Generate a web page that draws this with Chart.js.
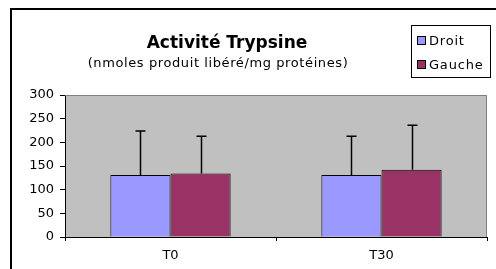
<!DOCTYPE html>
<html>
<head>
<meta charset="utf-8">
<script src="https://cdn.jsdelivr.net/npm/chart.js@4/dist/chart.umd.min.js"></script>
<style>
html,body{margin:0;padding:0;background:#fff;}
#wrap{width:496px;height:269px;position:relative;}
</style>
</head>
<body>
<div id="wrap"><canvas id="c" width="496" height="269"></canvas></div>
<script>
const categories = ["T0", "T30"];
const seriesNames = ["Droit", "Gauche"];
const droitValues = [131, 131];
const gaucheValues = [134, 142];
const droitErrors = [93, 82];
const gaucheErrors = [79, 94];
const yTicks = [0, 50, 100, 150, 200, 250, 300];
const titleText = "Activité Trypsine";
const subtitleText = "(nmoles produit libéré/mg protéines)";

const FONT = "'DejaVu Sans', 'Liberation Sans', Arial, sans-serif";

const decorPlugin = {
  id: 'decor',
  beforeDraw(chart) {
    const {ctx, chartArea: a} = chart;
    ctx.save();
    ctx.fillStyle = '#C0C0C0';
    ctx.fillRect(a.left, a.top, a.right - a.left, a.bottom - a.top);
    ctx.restore();
  },
  afterDraw(chart) {
    const {ctx, chartArea: a} = chart;
    ctx.save();
    ctx.strokeStyle = '#808080';
    ctx.lineWidth = 1;
    ctx.beginPath();
    ctx.moveTo(a.left, a.top + 0.5);
    ctx.lineTo(a.right - 0.5, a.top + 0.5);
    ctx.lineTo(a.right - 0.5, a.bottom);
    ctx.stroke();
    ctx.strokeStyle = '#000';
    ctx.lineWidth = 2;
    ctx.beginPath();
    ctx.moveTo(11, 269);
    ctx.lineTo(11, 9);
    ctx.lineTo(496, 9);
    ctx.stroke();
    ctx.fillStyle = '#000';
    ctx.textAlign = 'center';
    ctx.textBaseline = 'alphabetic';
    ctx.font = "bold 17px " + FONT;
    ctx.fillText(titleText, 227, 48);
    ctx.font = "13px " + FONT;
    if ('letterSpacing' in ctx) ctx.letterSpacing = '0.6px';
    ctx.fillText(subtitleText, 218, 67);
    if ('letterSpacing' in ctx) ctx.letterSpacing = '0.8px';
    ctx.lineWidth = 1;
    ctx.strokeStyle = '#000';
    ctx.fillStyle = '#fff';
    ctx.fillRect(411, 25, 80, 53);
    ctx.strokeRect(411.5, 25.5, 79, 52);
    const ys = [36, 60];
    chart.data.datasets.forEach((ds, i) => {
      ctx.fillStyle = ds.backgroundColor;
      ctx.fillRect(417, ys[i], 9, 9);
      ctx.strokeRect(417.5, ys[i] + 0.5, 8, 8);
      ctx.fillStyle = '#000';
      ctx.textAlign = 'left';
      ctx.font = "13px " + FONT;
      ctx.fillText(ds.label, 429, ys[i] + 9);
    });
    if ('letterSpacing' in ctx) ctx.letterSpacing = '0px';
    ctx.restore();
  },
  afterDatasetsDraw(chart) {
    const {ctx} = chart;
    const yScale = chart.scales.y;
    ctx.save();
    ctx.strokeStyle = '#000';
    ctx.lineWidth = 1.5;
    chart.data.datasets.forEach((ds, di) => {
      const meta = chart.getDatasetMeta(di);
      meta.data.forEach((el, i) => {
        const top = yScale.getPixelForValue(ds.data[i] + ds.errors[i]);
        const x = Math.round(el.x) + 0.5;
        ctx.beginPath();
        ctx.moveTo(x, el.y);
        ctx.lineTo(x, top);
        ctx.moveTo(x - 5, top);
        ctx.lineTo(x + 5, top);
        ctx.stroke();
      });
    });
    ctx.restore();
  }
};

new Chart(document.getElementById('c'), {
  type: 'bar',
  data: {
    labels: categories,
    datasets: [
      {label: seriesNames[0], data: droitValues, errors: droitErrors, backgroundColor: '#9999FF', borderColor: '#000', borderWidth: 1},
      {label: seriesNames[1], data: gaucheValues, errors: gaucheErrors, backgroundColor: '#993366', borderColor: '#000', borderWidth: 1}
    ]
  },
  options: {
    responsive: false,
    animation: false,
    devicePixelRatio: 1,
    layout: {padding: {top: 95, right: 9, left: 0, bottom: 0}},
    plugins: {legend: {display: false}, title: {display: false}, tooltip: {enabled: false}},
    datasets: {bar: {categoryPercentage: 0.57, barPercentage: 1.0}},
    scales: {
      x: {
        grid: {display: true, drawOnChartArea: false, drawTicks: true, tickLength: 4, color: '#000', offset: true},
        border: {display: true, color: '#000', width: 1},
        ticks: {color: '#000', font: {family: FONT, size: 13}, padding: 7, maxRotation: 0},
        afterFit(s) { s.height = 32; }
      },
      y: {
        min: 0, max: 300,
        afterBuildTicks(s) { s.ticks = yTicks.map(v => ({value: v})); },
        grid: {display: true, drawOnChartArea: false, drawTicks: true, tickLength: 5, color: '#000'},
        border: {display: true, color: '#000', width: 1},
        ticks: {color: '#000', font: {family: FONT, size: 13}, padding: 6},
        afterFit(s) { s.width = 65; }
      }
    }
  },
  plugins: [decorPlugin]
});
</script>
</body>
</html>
